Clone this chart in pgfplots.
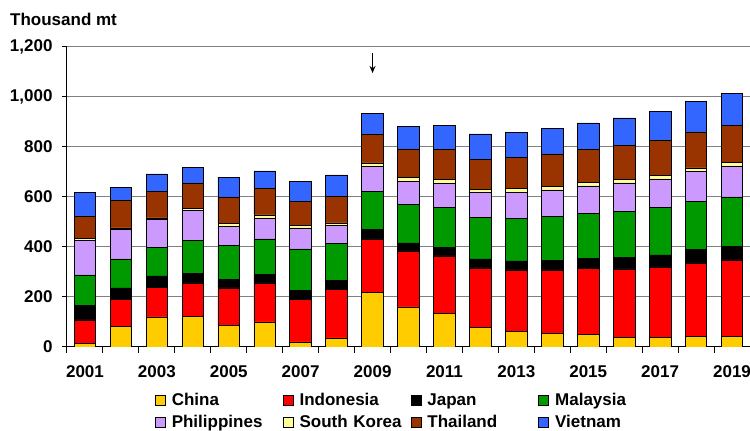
\documentclass[border=0pt]{standalone}
\usepackage{fontspec}
\setmainfont{Liberation Sans}
\usepackage{pgfplots}
\pgfplotsset{compat=1.18}
\usepackage{pgfplotstable}
\usetikzlibrary{arrows.meta}

\definecolor{cChina}{HTML}{FFCC00}
\definecolor{cIndo}{HTML}{FF0000}
\definecolor{cJapan}{HTML}{000000}
\definecolor{cMalay}{HTML}{009900}
\definecolor{cPhil}{HTML}{CC99FF}
\definecolor{cKorea}{HTML}{FFFF99}
\definecolor{cThai}{HTML}{993300}
\definecolor{cViet}{HTML}{3366FF}

\pgfplotstableread{
x China Indonesia Japan Malaysia Philippines Korea Thailand Vietnam
0 13 95 57 123 139 8 86 96
1 81 108 47 116 117 7 109 52
2 120 117 47 113 112 7 105 71
3 123 133 37 132 120 8 103 61
4 85 151 35 134 76 12 107 79
5 100 156 35 141 81 15 105 71
6 20 169 38 165 84 9 96 80
7 36 195 36 146 74 9 105 87
8 217 215 39 150 100 15 113 86
9 160 224 32 155 90 16 115 89
10 135 229 33 160 96 16 120 96
11 79 237 36 165 100 14 120 101
12 61 247 36 169 106 14 124 102
13 53 255 39 174 107 15 129 101
14 49 264 42 178 111 15 130 107
15 39 273 45 184 115 13 136 111
16 37 283 48 189 115 15 140 114
17 43 293 53 194 120 13 144 123
18 43 305 53 199 123 14 150 126
}\data

\begin{document}
\begin{tikzpicture}[font=\bfseries\fontsize{17}{20}\selectfont]
\begin{axis}[
  at={(0,0)}, anchor=south west,
  scale only axis, width=683pt, height=300pt,
  xmin=-0.5, xmax=18.5, ymin=0, ymax=1200,
  ybar stacked, bar width=0.6,
  axis x line*=bottom, axis y line*=left,
  axis line style={black, line width=1pt},
  xtick={0,2,...,18},
  xticklabels={2001,2003,2005,2007,2009,2011,2013,2015,2017,2019},
  major x tick style={draw=none},
  minor xtick={-0.5,0.5,...,18.5},
  minor x tick style={black, line width=1pt},
  minor tick length=6pt,
  ytick={0,200,...,1200},
  major y tick style={black, line width=1pt},
  major tick length=5pt,
  tick align=outside,
  ymajorgrids,
  major grid style={draw=gray, line width=1pt},
  extra y ticks={600},
  extra y tick labels={},
  extra y tick style={grid style={draw=black, line width=1pt}, major tick length=0pt},
  /pgf/number format/assume math mode=true,
  yticklabel style={/pgf/number format/1000 sep={,}, xshift=-6pt},
  xticklabel style={yshift=-10pt},
  legend columns=4,
  legend image code/.code={\draw[#1, draw=black, line width=0.8pt] (0pt,-5pt) rectangle (10pt,5pt); \path (16pt,0pt);},
  legend style={draw=none, fill=none, at={(0.1288,-0.151)}, anchor=north west,
    inner sep=0pt, outer sep=0pt, column sep=0pt, row sep=5pt,
    nodes={inner sep=0pt, text width=111pt, align=left, text height=13pt, text depth=4pt}},
  legend cell align=left,
]
\addplot[fill=cChina, draw=black, line width=0.8pt] table[x=x,y=China]{\data};
\addplot[fill=cIndo, draw=black, line width=0.8pt] table[x=x,y=Indonesia]{\data};
\addplot[fill=cJapan, draw=black, line width=0.8pt] table[x=x,y=Japan]{\data};
\addplot[fill=cMalay, draw=black, line width=0.8pt] table[x=x,y=Malaysia]{\data};
\addplot[fill=cPhil, draw=black, line width=0.8pt] table[x=x,y=Philippines]{\data};
\addplot[fill=cKorea, draw=black, line width=0.8pt] table[x=x,y=Korea]{\data};
\addplot[fill=cThai, draw=black, line width=0.8pt] table[x=x,y=Thailand]{\data};
\addplot[fill=cViet, draw=black, line width=0.8pt] table[x=x,y=Vietnam]{\data};
\legend{China,Indonesia,Japan,Malaysia,Philippines,South Korea,Thailand,Vietnam}
\draw[-{Stealth[length=7pt,width=6pt]}, line width=1.2pt] (axis cs:8,1176) -- (axis cs:8,1096);
\end{axis}
\node[anchor=west, inner sep=0pt] at (-57pt,328pt) {Thousand mt};
\pgfresetboundingbox
\path[use as bounding box] (-67pt,-84pt) rectangle (683pt,347pt);
\end{tikzpicture}
\end{document}
